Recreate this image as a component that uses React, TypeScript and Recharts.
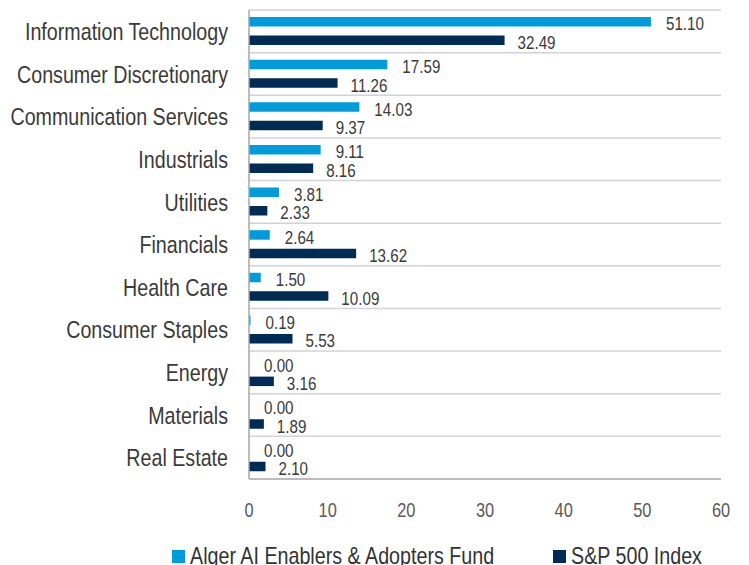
import React from 'react';
import { BarChart, Bar, XAxis, YAxis, CartesianGrid, Legend, LabelList } from 'recharts';

const categories = [
  'Information Technology',
  'Consumer Discretionary',
  'Communication Services',
  'Industrials',
  'Utilities',
  'Financials',
  'Health Care',
  'Consumer Staples',
  'Energy',
  'Materials',
  'Real Estate',
];
const fundValues = [51.1, 17.59, 14.03, 9.11, 3.81, 2.64, 1.5, 0.19, 0, 0, 0];
const indexValues = [32.49, 11.26, 9.37, 8.16, 2.33, 13.62, 10.09, 5.53, 3.16, 1.89, 2.1];
const xTicks = [0, 10, 20, 30, 40, 50, 60];

const FUND_NAME = 'Alger AI Enablers & Adopters Fund';
const INDEX_NAME = 'S&P 500 Index';
const FUND_COLOR = '#009bdb';
const INDEX_COLOR = '#002b55';
const FONT = "'Liberation Sans', Arial, sans-serif";
// no narrow font installed, so squeeze the text horizontally
const SQUEEZE = 0.82;

const data = categories.map((name, i) => ({ name, fund: fundValues[i], index: indexValues[i] }));

const CategoryTick = ({ x, y, payload }: any) => (
  <g transform={`translate(${x},${y})`}>
    <text transform={`scale(${SQUEEZE},1)`} textAnchor="end" dy="0.36em" fontFamily={FONT} fontSize={24} fill="#3a3a3a">
      {payload.value}
    </text>
  </g>
);

const NumberTick = ({ x, y, payload }: any) => (
  <g transform={`translate(${x},${y})`}>
    <text transform={`scale(${SQUEEZE},1)`} textAnchor="middle" dy="0.72em" fontFamily={FONT} fontSize={20} fill="#595959">
      {payload.value}
    </text>
  </g>
);

const makeValueLabel = (offset: number) => (props: any) => {
  const { x, y, width, height, value } = props;
  const tx = Number(x) + Number(width) + offset;
  const ty = Number(y) + Number(height) / 2 + 2;
  return (
    <g transform={`translate(${tx},${ty})`}>
      <text transform={`scale(${SQUEEZE},1)`} textAnchor="start" dy="0.36em" fontFamily={FONT} fontSize={18.5} fill="#3a3a3a">
        {Number(value).toFixed(2)}
      </text>
    </g>
  );
};

const LegendContent = (props: any) => {
  const items = props.payload || [];
  const lefts = [172, 553];
  return (
    <div style={{ position: 'relative', height: 28, fontFamily: FONT, fontSize: 24, color: '#333' }}>
      {items.map((it: any, i: number) => (
        <div key={it.value} style={{ position: 'absolute', left: lefts[i], top: 0, height: 28, display: 'flex', alignItems: 'center', whiteSpace: 'nowrap' }}>
          <span style={{ width: 13, height: 13, background: it.color, display: 'inline-block', marginRight: 5, flex: 'none' }} />
          <span style={{ display: 'inline-block', transform: `scaleX(${SQUEEZE})`, transformOrigin: 'left center' }}>{it.value}</span>
        </div>
      ))}
    </div>
  );
};

export default function App() {
  return (
    <div style={{ position: 'absolute', left: 0, top: 0, background: '#fff' }}>
      <BarChart
        width={749}
        height={565}
        data={data}
        layout="vertical"
        margin={{ top: 10, right: 28, left: 0, bottom: 0 }}
        barSize={9.5}
        barGap={9}
      >
        <CartesianGrid
          vertical={false}
          stroke="#d2d2da"
          strokeWidth={1.5}
          horizontalCoordinatesGenerator={({ offset }: any) =>
            categories.map((_, i) => offset.top + (i * offset.height) / categories.length)
          }
        />
        <XAxis
          type="number"
          domain={[0, 60]}
          ticks={xTicks}
          height={58}
          tickLine={false}
          tickMargin={18}
          axisLine={{ stroke: '#a6a6a6', strokeWidth: 1.5 }}
          tick={<NumberTick />}
        />
        <YAxis
          type="category"
          dataKey="name"
          width={249}
          tickLine={false}
          tickMargin={15}
          axisLine={{ stroke: '#a6a6a6', strokeWidth: 1.5 }}
          tick={<CategoryTick />}
          interval={0}
        />
        <Legend
          verticalAlign="bottom"
          content={<LegendContent />}
          wrapperStyle={{ left: 0, top: 542, width: 749 }}
        />
        <Bar
          dataKey="fund"
          name={FUND_NAME}
          fill={FUND_COLOR}
          isAnimationActive={false}
          minPointSize={(v: any) => (v === 0 ? 0.01 : 0)}
        >
          <LabelList dataKey="fund" content={makeValueLabel(15)} />
        </Bar>
        <Bar dataKey="index" name={INDEX_NAME} fill={INDEX_COLOR} isAnimationActive={false}>
          <LabelList dataKey="index" content={makeValueLabel(13)} />
        </Bar>
      </BarChart>
    </div>
  );
}
